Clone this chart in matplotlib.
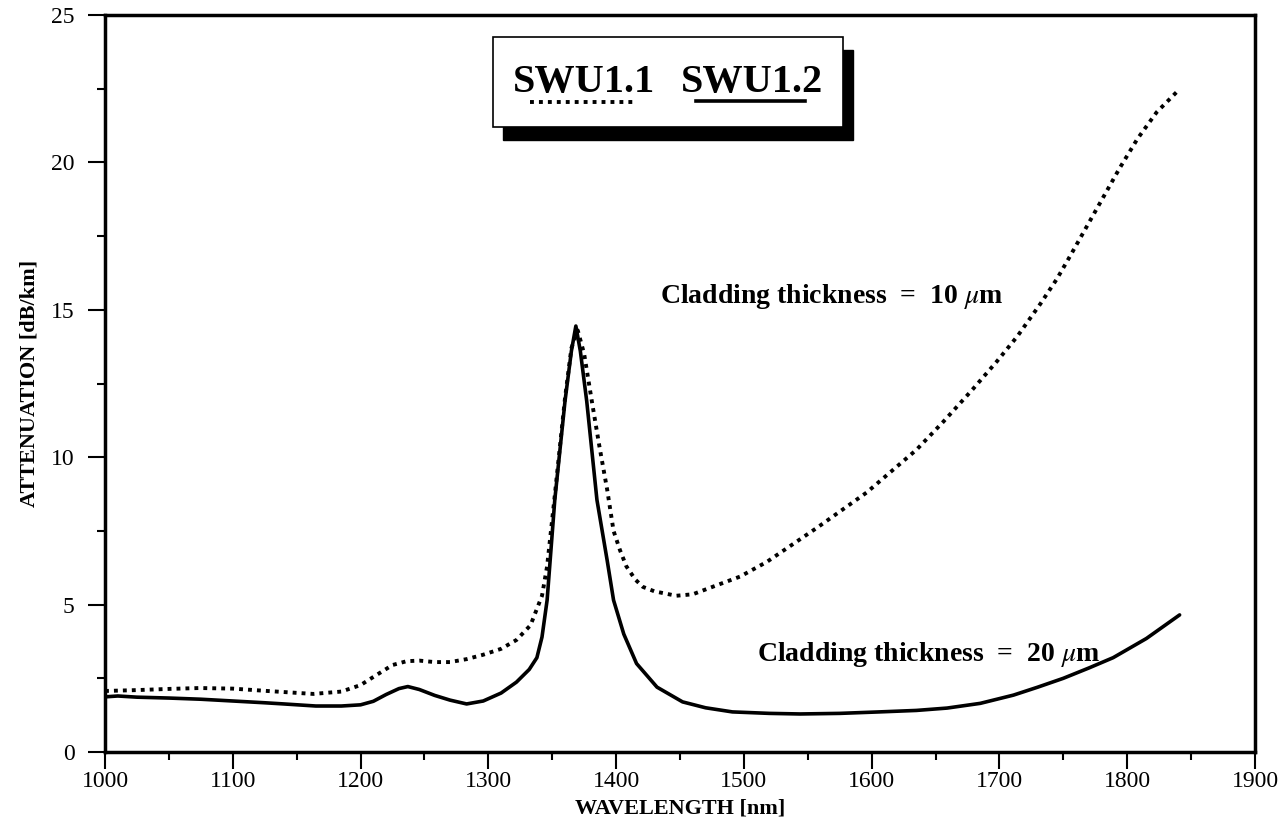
import matplotlib
matplotlib.use("Agg")
import matplotlib.pyplot as plt
from matplotlib.patches import Rectangle
from matplotlib.lines import Line2D
from matplotlib.ticker import MultipleLocator

plt.rcParams['font.family'] = ['Liberation Serif', 'DejaVu Serif']
plt.rcParams['mathtext.fontset'] = 'stix'

# SWU1.1 : cladding thickness 10 um (dotted)
wl_10 = [1000, 1025, 1050, 1074, 1100, 1127, 1145, 1163, 1185, 1200, 1212, 1225,
         1236, 1246, 1258, 1270, 1283, 1296, 1310, 1322, 1333, 1342, 1346, 1352,
         1360, 1365, 1370, 1375, 1381, 1387, 1393, 1398, 1403, 1408, 1415, 1421,
         1430, 1447, 1460, 1479, 1497, 1518, 1557, 1596, 1635, 1656, 1679, 1698,
         1714, 1732, 1745, 1755, 1768, 1781, 1794, 1808, 1823, 1839]
att_10 = [2.07, 2.1, 2.14, 2.17, 2.15, 2.07, 2.02, 1.97, 2.05, 2.27, 2.6, 2.95,
          3.08, 3.1, 3.05, 3.05, 3.15, 3.3, 3.5, 3.8, 4.3, 5.3, 6.3, 8.7,
          12.0, 13.7, 14.3, 13.5, 11.9, 10.35, 8.9, 7.5, 6.85, 6.3, 5.85, 5.6,
          5.45, 5.3, 5.35, 5.66, 5.95, 6.45, 7.6, 8.8, 10.25, 11.2, 12.3, 13.25,
          14.1, 15.2, 16.05, 16.8, 17.8, 18.8, 19.8, 20.8, 21.7, 22.4]

# SWU1.2 : cladding thickness 20 um (solid)
wl_20 = [1000, 1010, 1025, 1050, 1075, 1100, 1125, 1140, 1165, 1185, 1200, 1210,
         1220, 1230, 1237, 1246, 1258, 1270, 1283, 1296, 1310, 1322, 1332, 1338,
         1342, 1346, 1352, 1360, 1365, 1368.5, 1372, 1377, 1385, 1393, 1398, 1406,
         1416, 1432, 1452, 1470, 1491, 1520, 1544, 1575, 1606, 1635, 1659, 1685,
         1711, 1730, 1750, 1770, 1789, 1815, 1841]
att_20 = [1.87, 1.9, 1.86, 1.83, 1.79, 1.73, 1.67, 1.63, 1.56, 1.56, 1.6, 1.72,
          1.95, 2.15, 2.22, 2.12, 1.92, 1.76, 1.63, 1.73, 2.0, 2.37, 2.8, 3.2,
          3.9, 5.15, 8.55, 11.9, 13.6, 14.45, 13.6, 11.9, 8.55, 6.5, 5.15, 4.0,
          3.0, 2.2, 1.7, 1.5, 1.36, 1.31, 1.29, 1.31, 1.36, 1.41, 1.49, 1.65,
          1.93, 2.2, 2.5, 2.85, 3.2, 3.85, 4.65]

W, H = 1280, 839
fig = plt.figure(figsize=(W / 100, H / 100), dpi=100)
ax = fig.add_axes([105 / W, 1 - 752 / H, 1150 / W, 737 / H])

ax.plot(wl_10, att_10, color='black', lw=2.8, linestyle=(0, (1, 1.3)),
        dash_capstyle='butt')
ax.plot(wl_20, att_20, color='black', lw=2.6, solid_capstyle='round')

ax.set_xlim(1000, 1900)
ax.set_ylim(0, 25)
ax.xaxis.set_major_locator(MultipleLocator(100))
ax.xaxis.set_minor_locator(MultipleLocator(50))
ax.yaxis.set_major_locator(MultipleLocator(5))
ax.yaxis.set_minor_locator(MultipleLocator(2.5))
ax.tick_params(which='both', direction='out', top=False, right=False, width=1.5)
ax.tick_params(which='major', length=12, labelsize=17)
ax.tick_params(which='minor', length=6)
ax.tick_params(axis='x', which='major', pad=2)
ax.tick_params(axis='y', which='major', pad=10)
for s in ax.spines.values():
    s.set_linewidth(2.5)

ax.set_xlabel('WAVELENGTH [nm]', fontsize=16, fontweight='bold', labelpad=4)
ax.set_ylabel('ATTENUATION [dB/km]', fontsize=16, fontweight='bold', labelpad=8)

ax.text(1434, 15.45, r'Cladding thickness  =  10 $\mu$m', fontsize=20,
        fontweight='bold', ha='left', va='center')
ax.text(1510, 3.3, r'Cladding thickness  =  20 $\mu$m', fontsize=20,
        fontweight='bold', ha='left', va='center')

# boxed key with drop shadow
def px(x, y):
    return x / W, 1 - y / H

bx0, by0 = px(493, 127)
bw, bh = 350 / W, 90 / H
sx, sy = px(503, 140)
fig.add_artist(Rectangle((sx, sy), bw, bh, transform=fig.transFigure,
                         facecolor='black', edgecolor='black', zorder=5))
fig.add_artist(Rectangle((bx0, by0), bw, bh, transform=fig.transFigure,
                         facecolor='white', edgecolor='black', lw=1.2, zorder=6))
tx, ty = px(584, 92)
fig.text(tx, ty, 'SWU1.1', fontsize=29, fontweight='bold', ha='center',
         va='baseline', zorder=7)
tx, ty = px(752, 92)
fig.text(tx, ty, 'SWU1.2', fontsize=29, fontweight='bold', ha='center',
         va='baseline', zorder=7)
x0, y0 = px(530, 102)
x1, _ = px(637, 102)
fig.add_artist(Line2D([x0, x1], [y0, y0], transform=fig.transFigure, color='black',
                      lw=2.8, linestyle=(0, (1, 1.3)), dash_capstyle='butt', zorder=7))
x0, y0 = px(696, 101)
x1, _ = px(805, 101)
fig.add_artist(Line2D([x0, x1], [y0, y0], transform=fig.transFigure, color='black',
                      lw=2.6, zorder=7))

fig.savefig('out.png', dpi=100)
